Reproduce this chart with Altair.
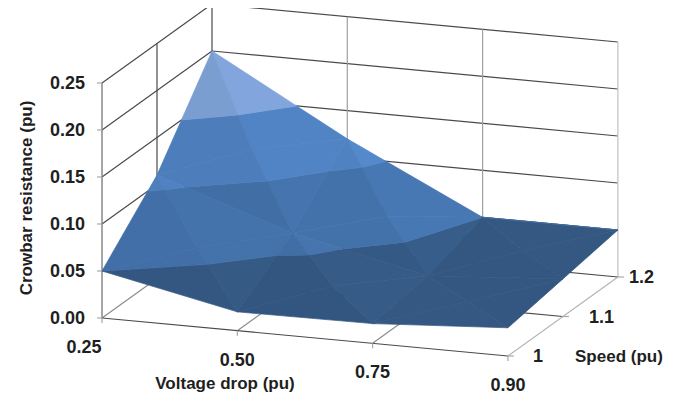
import altair as alt
import numpy as np

# ---- values ----
voltage_labels = ["0.25", "0.50", "0.75", "0.90"]
speed_labels = ["1", "1.1", "1.2"]
z_labels = ["0.00", "0.05", "0.10", "0.15", "0.20", "0.25"]
z_ticks = [0.0, 0.05, 0.10, 0.15, 0.20, 0.25]
speed_10 = [0.05, 0.020, 0.021, 0.030]
speed_11 = [0.11, 0.062, 0.030, 0.040]
speed_12 = [0.20, 0.120, 0.050, 0.050]

band_edges = [0.0, 0.05, 0.10, 0.15, 0.20, 0.25]
band_colors = ["#355a85", "#4473ac", "#5083c3", "#80a4da", "#9fbde6"]

# ---- oblique 3-D view of the box ----
ORIGIN = np.array([102.0, 318.0])
V_STEP = np.array([135.3, 12.67])
S_STEP = np.array([55.0, -39.5])
Z_UNIT = 940.0


def proj(v, s, z=0.0):
    p = ORIGIN + V_STEP * v + S_STEP * s
    return float(p[0]), float(p[1] - z * Z_UNIT)


grid = np.array([speed_10, speed_11, speed_12])


def clip(poly, lo, hi):
    def cut(pts, keep, level):
        out = []
        for i, a in enumerate(pts):
            b = pts[(i + 1) % len(pts)]
            ka, kb = keep(a[2]), keep(b[2])
            if ka:
                out.append(a)
            if ka != kb:
                t = (level - a[2]) / (b[2] - a[2])
                out.append(tuple(a[k] + t * (b[k] - a[k]) for k in range(3)))
        return out
    pts = cut(poly, lambda z: z >= lo, lo)
    if pts:
        pts = cut(pts, lambda z: z <= hi, hi)
    return pts


def shade(tri):
    # facets tilted toward +voltage / -speed catch more light
    a, b, c = [np.array(p, dtype=float) for p in tri]
    n = np.cross(b - a, c - a)
    if n[2] < 0:
        n = -n
    grad_v, grad_s = -n[0] / n[2], -n[1] / n[2]
    return 1 + 1.5 * (-grad_v - grad_s)


def tint(hex_color, f):
    rgb = [int(hex_color[i:i + 2], 16) for i in (1, 3, 5)]
    return "#%02x%02x%02x" % tuple(int(min(255, max(0, round(c * f)))) for c in rgb)


tris = []
for si in range(2):
    for vi in range(3):
        c00 = (vi, si, grid[si, vi])
        c10 = (vi + 1, si, grid[si, vi + 1])
        c11 = (vi + 1, si + 1, grid[si + 1, vi + 1])
        c01 = (vi, si + 1, grid[si + 1, vi])
        mid = (vi + 0.5, si + 0.5, (c00[2] + c10[2] + c11[2] + c01[2]) / 4)
        for e0, e1 in [(c00, c10), (c10, c11), (c11, c01), (c01, c00)]:
            tris.append((e0, e1, mid))

# paint from the back of the box to the front
tris.sort(key=lambda t: -sum(39.5 * p[1] - 12.67 * p[0] for p in t))

features = []
for tri in tris:
    f = shade(tri)
    for b in range(len(band_colors)):
        pts = clip(list(tri), band_edges[b], band_edges[b + 1])
        if len(pts) < 3:
            continue
        ring = [list(proj(*p)) for p in pts]
        ring.append(ring[0])
        features.append({
            "type": "Feature",
            "geometry": {"type": "Polygon", "coordinates": [ring]},
            "properties": {"fill": tint(band_colors[b], f)},
        })

# ---- gridlines ----
DARK, MID, LIGHTG = "#4a4a4a", "#8c8c8c", "#b4b4b4"
rules = []


def seg(a, b, color, w=1.2):
    (x, y), (x2, y2) = a, b
    rules.append({"x": x, "y": y, "x2": x2, "y2": y2, "c": color, "w": w})


for z in z_ticks[1:]:
    seg(proj(0, 0, z), proj(0, 2, z), DARK)
    seg(proj(0, 2, z), proj(3, 2, z), DARK)
seg(proj(0, 0, 0), proj(0, 2, 0), MID)
seg(proj(0, 1, 0), proj(0, 1, 0.25), DARK)
seg(proj(0, 2, 0), proj(0, 2, 0.25), DARK)
seg(proj(1, 2, 0), proj(1, 2, 0.25), "#a0a0a0")
seg(proj(2, 2, 0), proj(2, 2, 0.25), "#a0a0a0")
seg(proj(3, 2, 0), proj(3, 2, 0.25), "#c0c0c0")
seg(proj(0, 1, 0), proj(3, 1, 0), DARK)
seg(proj(0, 2, 0), proj(3, 2, 0), DARK)
seg(proj(1, 0, 0), proj(1, 2, 0), MID)
seg(proj(2, 0, 0), proj(2, 2, 0), MID)
seg(proj(3, 0, 0), proj(3, 2, 0), LIGHTG)
seg(proj(0, 0, 0), proj(3, 0, 0), DARK)
seg(proj(0, 0, 0), proj(0, 0, 0.25), "#808080", 1.4)
for z in z_ticks:
    x, y = proj(0, 0, z)
    seg((x - 5, y), (x, y), "#a8a8a8")
for v in range(4):
    x, y = proj(v, 0, 0)
    seg((x, y), (x, y + 5), "#a8a8a8")
for s in range(3):
    x, y = proj(3, s, 0)
    seg((x, y), (x + 6, y), "#a8a8a8")

# ---- texts ----
texts = []
for i, lab in enumerate(z_labels):
    x, y = proj(0, 0, z_ticks[i])
    texts.append({"x": x - 17, "y": y + 1, "t": lab, "a": "right", "ang": 0, "s": 18})
for i, lab in enumerate(voltage_labels):
    x, y = proj(i, 0, 0)
    texts.append({"x": x - (18 if i == 0 else 0), "y": y + 30, "t": lab, "a": "center", "ang": 0, "s": 18})
speed_dx = [25, 26, 11]
for i, lab in enumerate(speed_labels):
    x, y = proj(3, i, 0)
    texts.append({"x": x + speed_dx[i], "y": y + 1, "t": lab, "a": "left", "ang": 0, "s": 18})
texts.append({"x": 225, "y": 384, "t": "Voltage drop (pu)", "a": "center", "ang": 0, "s": 17})
texts.append({"x": 575, "y": 357, "t": "Speed (pu)", "a": "left", "ang": 0, "s": 17})
texts.append({"x": 27, "y": 198, "t": "Crowbar resistance (pu)", "a": "center", "ang": 270, "s": 17})

# ---- chart ----
xs = alt.Scale(domain=[8, 682], range=[0, 674], nice=False, zero=False)
ys = alt.Scale(domain=[8, 399], range=[0, 391], nice=False, zero=False)

grid_layer = alt.Chart(alt.Data(values=rules)).mark_rule().encode(
    x=alt.X("x:Q", scale=xs, axis=None),
    y=alt.Y("y:Q", scale=ys, axis=None),
    x2="x2:Q",
    y2="y2:Q",
    color=alt.Color("c:N", scale=None),
    size=alt.Size("w:Q", scale=None),
)

surface = alt.Chart(alt.Data(values=features)).mark_geoshape(strokeWidth=0.7).encode(
    color=alt.Color("properties.fill:N", scale=None),
    stroke=alt.Stroke("properties.fill:N", scale=None),
).project(type="identity", scale=1, translate=[-8, -8])

layers = [grid_layer, surface]
for ang, a in [(0, "right"), (0, "center"), (0, "left"), (270, "center")]:
    sub = [t for t in texts if t["ang"] == ang and t["a"] == a]
    for size in sorted({t["s"] for t in sub}):
        layers.append(
            alt.Chart(alt.Data(values=[t for t in sub if t["s"] == size]))
            .mark_text(font="Liberation Sans", fontWeight="bold", fontSize=size,
                       align=a, baseline="middle", angle=ang, color="#1f1f1f")
            .encode(x=alt.X("x:Q", scale=xs, axis=None),
                    y=alt.Y("y:Q", scale=ys, axis=None),
                    text="t:N")
        )

chart = alt.layer(*layers).properties(
    width=674, height=391, padding=0,
    autosize=alt.AutoSizeParams(type="none"),
).configure_view(stroke=None)

chart.save("out.html", embed_options={"renderer": "svg", "actions": False})
